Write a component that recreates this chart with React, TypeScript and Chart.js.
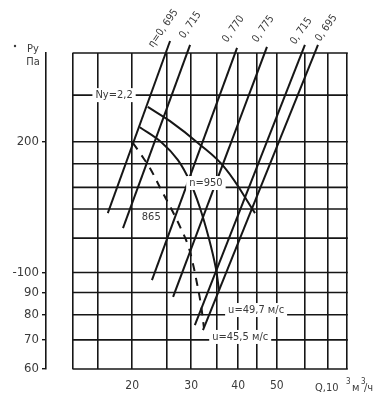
import React, { useEffect, useRef } from 'react';
import { Chart, registerables } from 'chart.js';

Chart.register(...registerables);

// ---- data (Q in 10^3 m3/h, P in Pa) ----
const xGrid = [13.7, 16, 20, 24.9, 29.2, 34.5, 39.5, 44.6, 50.6, 60.5, 70.3, 79.4];
const xTickValues = [20, 29.2, 39.5, 50.6];
const xTickTexts = ['20', '30', '40', '50'];

const yGrid = [60, 70, 80, 90, 100, 120, 140, 157, 178, 200, 256, 320];
const yTickValues = [60, 70, 80, 90, 100, 200];
const yTickTexts = ['60', '70', '80', '90', '-100', '200'];

const etaTexts = ['η=0, 695', '0, 715', '0, 770', '0, 775', '0, 715', '0, 695'];
const eta1Q = [17.1, 25.5];
const eta1P = [137, 341];
const eta2Q = [18.85, 29.0];
const eta2P = [126.6, 334];
const eta3Q = [22.7, 39.2];
const eta3P = [96.1, 328.7];
const eta4Q = [26.0, 47.5];
const eta4P = [87.9, 330.5];
const eta5Q = [29.9, 60.6];
const eta5P = [75.7, 334];
const eta6Q = [31.5, 65.9];
const eta6P = [73.7, 334];

const nyQ = [22.1, 25.5, 30.5, 36.3, 44.0];
const nyP = [240.5, 223, 198.7, 174, 137];

const n950Q = [21.0, 24.2, 26.8, 29.0, 30.9, 32.7, 34.2, 34.9];
const n950P = [216, 199, 181.6, 161.6, 140.8, 120.1, 102.5, 91.2];

const n865Q = [20.1, 21.0, 22.4, 23.9, 25.8, 27.3, 28.6, 29.5, 30.3, 31.1, 31.7];
const n865P = [198.7, 188.5, 174, 157, 139.3, 126.6, 115.7, 105.2, 94.6, 84.2, 74.6];

// ---- styling ----
const FONT = "'Liberation Sans Narrow', 'DejaVu Sans Condensed', 'Arial Narrow', sans-serif";
const INK = '#161616';
const TEXT = '#3a3a3a';

const pts = (q: number[], p: number[]) => q.map((v, i) => ({ x: v, y: p[i] }));

const etaSeries = [
  pts(eta1Q, eta1P),
  pts(eta2Q, eta2P),
  pts(eta3Q, eta3P),
  pts(eta4Q, eta4P),
  pts(eta5Q, eta5P),
  pts(eta6Q, eta6P),
];

// label placements (style/layout only)
const etaLabelOffsets = [
  [-17, 7],
  [-6, -6],
  [-10, -5],
  [-10, -4],
  [-10, 0],
  [2, -3],
];

const boxLabels = [
  { text: 'Ny=2,2', q: 17.8, p: 256 },
  { text: 'n=950', q: 32.1, p: 160.7 },
  { text: '865', q: 22.6, p: 134 },
  { text: 'u=49,7 м/с', q: 44.3, p: 82 },
  { text: 'u=45,5 м/с', q: 40.0, p: 71.1 },
];

const overlay = {
  id: 'overlay',
  beforeDatasetsDraw(chart: any) {
    const { ctx, scales } = chart;
    const x = scales.x;
    const y = scales.y;
    ctx.save();
    ctx.strokeStyle = INK;
    ctx.lineWidth = 1.6;
    const x0 = x.getPixelForValue(xGrid[0]);
    const x1 = x.getPixelForValue(xGrid[xGrid.length - 1]);
    yGrid.forEach((v) => {
      const py = y.getPixelForValue(v);
      ctx.beginPath();
      ctx.moveTo(x0 - 0.8, py);
      ctx.lineTo(x1 + 0.8, py);
      ctx.stroke();
    });
    ctx.restore();
  },
  afterDatasetsDraw(chart: any) {
    const { ctx, scales } = chart;
    const x = scales.x;
    const y = scales.y;
    ctx.save();
    // boxed labels
    ctx.font = `11px ${FONT}`;
    ctx.textAlign = 'center';
    ctx.textBaseline = 'middle';
    boxLabels.forEach((l) => {
      const px = x.getPixelForValue(l.q);
      const py = y.getPixelForValue(l.p);
      const w = ctx.measureText(l.text).width;
      ctx.fillStyle = '#ffffff';
      ctx.fillRect(px - w / 2 - 3, py - 7, w + 6, 14);
      ctx.fillStyle = TEXT;
      ctx.fillText(l.text, px, py);
    });
    // efficiency labels
    ctx.font = `10.5px ${FONT}`;
    ctx.textAlign = 'left';
    ctx.textBaseline = 'alphabetic';
    etaSeries.forEach((s, i) => {
      const top = s[s.length - 1];
      const px = x.getPixelForValue(top.x) + etaLabelOffsets[i][0];
      const py = y.getPixelForValue(top.y) + etaLabelOffsets[i][1];
      ctx.save();
      ctx.translate(px, py);
      ctx.rotate((-55 * Math.PI) / 180);
      ctx.fillStyle = TEXT;
      ctx.fillText(etaTexts[i], 0, 0);
      ctx.restore();
    });
    // axis titles
    const left = chart.chartArea.left;
    const bottom = chart.chartArea.bottom;
    ctx.fillStyle = TEXT;
    ctx.font = `11px ${FONT}`;
    ctx.textAlign = 'center';
    ctx.textBaseline = 'middle';
    ctx.fillText('Ру', left - 13, 49);
    ctx.fillText('Па', left - 13, 62);
    ctx.beginPath();
    ctx.arc(left - 31, 46, 1.2, 0, Math.PI * 2);
    ctx.fill();
    ctx.textAlign = 'left';
    const by = bottom + 19;
    ctx.fillText('Q,10', 315, by);
    ctx.font = `8px ${FONT}`;
    ctx.fillText('3', 346, by - 6);
    ctx.font = `11px ${FONT}`;
    ctx.fillText('м', 352, by);
    ctx.font = `8px ${FONT}`;
    ctx.fillText('3', 361, by - 6);
    ctx.font = `11px ${FONT}`;
    ctx.fillText('/ч', 364, by);
    ctx.restore();
  },
};

export default function App() {
  const ref = useRef<HTMLCanvasElement | null>(null);

  useEffect(() => {
    if (!ref.current) return;
    const lineBase = {
      type: 'line' as const,
      borderColor: INK,
      borderWidth: 2,
      pointRadius: 0,
      fill: false,
      clip: false as any,
    };
    const datasets: any[] = [
      ...etaSeries.map((s, i) => ({ ...lineBase, label: etaTexts[i], data: s, tension: 0 })),
      { ...lineBase, label: 'Ny=2,2', data: pts(nyQ, nyP), tension: 0.4 },
      { ...lineBase, label: 'n=950', data: pts(n950Q, n950P), tension: 0.4 },
      { ...lineBase, label: 'n=865', data: pts(n865Q, n865P), tension: 0.4, borderDash: [8, 7] },
    ];

    const chart = new Chart(ref.current, {
      type: 'line',
      data: { datasets },
      options: {
        animation: false,
        responsive: false,
        layout: { padding: { top: 53, right: 42, left: 0, bottom: 0 } },
        plugins: { legend: { display: false }, tooltip: { enabled: false } },
        scales: {
          x: {
            type: 'logarithmic',
            min: 11.5,
            max: 79.4,
            afterBuildTicks: (axis: any) => {
              axis.ticks = xGrid.map((v) => ({ value: v }));
            },
            afterFit: (axis: any) => {
              axis.height = 44;
            },
            border: { display: false },
            grid: { color: INK, lineWidth: 1.6, drawTicks: false },
            ticks: {
              autoSkip: false,
              maxRotation: 0,
              padding: 10,
              color: TEXT,
              font: { family: FONT, size: 12 },
              callback: (v: any) => {
                const i = xTickValues.findIndex((t) => Math.abs(t - Number(v)) < 0.01);
                return i >= 0 ? xTickTexts[i] : '';
              },
            },
          },
          y: {
            type: 'logarithmic',
            min: 60,
            max: 320,
            afterBuildTicks: (axis: any) => {
              axis.ticks = yTickValues.map((v) => ({ value: v }));
            },
            afterFit: (axis: any) => {
              axis.width = 46;
            },
            border: { display: true, color: INK, width: 1.6 },
            grid: { drawOnChartArea: false, drawTicks: true, tickLength: 4, color: INK, lineWidth: 1.4 },
            ticks: {
              autoSkip: false,
              padding: 3,
              color: TEXT,
              font: { family: FONT, size: 13 },
              callback: (v: any) => {
                const i = yTickValues.findIndex((t) => Math.abs(t - Number(v)) < 0.01);
                return i >= 0 ? yTickTexts[i] : '';
              },
            },
          },
        },
      },
      plugins: [overlay],
    });
    return () => chart.destroy();
  }, []);

  return (
    <div style={{ position: 'absolute', left: 0, top: 0, width: 389, height: 413, background: '#fff' }}>
      <canvas ref={ref} width={389} height={413} />
    </div>
  );
}
